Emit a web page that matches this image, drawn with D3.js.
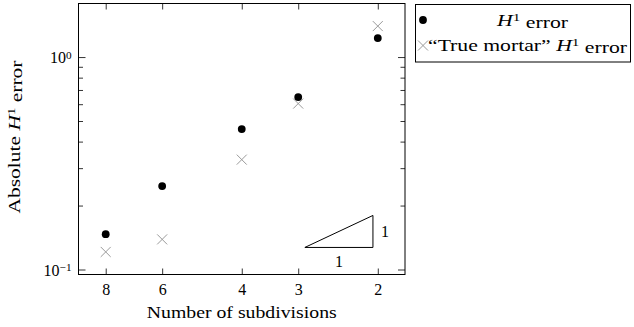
<!DOCTYPE html>
<html>
<head>
<meta charset="utf-8">
<script src="https://cdn.jsdelivr.net/npm/d3@7"></script>
<style>
  body { margin: 0; background: #fff; }
</style>
</head>
<body>
<svg id="chart" width="634" height="327"></svg>
<script>
// Convergence data: error versus number of subdivisions
const subdivisions = [8, 6, 4, 3, 2];
const h1Error = [0.1466, 0.247, 0.458, 0.648, 1.228];
const trueMortarError = [0.121, 0.1386, 0.329, 0.604, 1.399];

const xTickValues = [8, 6, 4, 3, 2];
const yMajorTicks = [0.1, 1];
const yMinorTicks = [0.2, 0.3, 0.4, 0.5, 0.6, 0.7, 0.8, 0.9];

// Slope-1 reference triangle (corners in data units)
const slopeRun = [2.9, 2.05];
const slopeBase = 0.127;
const slopeOrder = 1;

const FONT = "'Liberation Serif', 'Times New Roman', Times, serif";
const FS = 16;
const svg = d3.select("#chart").attr("font-family", FONT);
const plot = { left: 78.5, right: 405, top: 3.5, bottom: 274.5 };

// pgfplots-style 10% enlargement of the log range
function enlarged(vals) {
  const lo = Math.log(d3.min(vals)), hi = Math.log(d3.max(vals));
  const pad = (hi - lo) * 0.1;
  return [Math.exp(lo - pad), Math.exp(hi + pad)];
}
const xd = enlarged(subdivisions);
const x = d3.scaleLog().domain([xd[1], xd[0]]).range([plot.left, plot.right]);
const yd = enlarged(h1Error.concat(trueMortarError));
const y = d3.scaleLog().domain(yd).range([plot.bottom, plot.top]);

function styleAxis(g) {
  g.attr("font-family", FONT).attr("font-size", FS);
  g.select(".domain").remove();
  g.selectAll(".tick line").attr("stroke", "#000").attr("stroke-width", 0.8);
  g.selectAll("text").attr("fill", "#000");
}

// x axis (ticks point inward on top and bottom)
svg.append("g").attr("transform", `translate(0,${plot.bottom})`)
  .call(d3.axisBottom(x).tickValues(xTickValues).tickFormat(d3.format("d")).tickSize(-6).tickPadding(9))
  .call(styleAxis);
svg.append("g").attr("transform", `translate(0,${plot.top})`)
  .call(d3.axisTop(x).tickValues(xTickValues).tickFormat("").tickSize(-6))
  .call(styleAxis);

// y axis, major ticks with power-of-ten labels
const yLeft = svg.append("g").attr("transform", `translate(${plot.left},0)`)
  .call(d3.axisLeft(y).tickValues(yMajorTicks).tickSize(-7).tickPadding(7).tickFormat(""))
  .call(styleAxis);
yLeft.selectAll(".tick text").each(function (d) {
  const t = d3.select(this).attr("dy", "0.36em");
  const e = Math.round(Math.log10(d));
  t.append("tspan").text("10");
  t.append("tspan").attr("dy", "-0.42em").attr("font-size", "70%")
    .text(e < 0 ? "\u2212" + (-e) : String(e));
});
svg.append("g").attr("transform", `translate(${plot.left},0)`)
  .call(d3.axisLeft(y).tickValues(yMinorTicks).tickSize(-4.5).tickFormat(""))
  .call(styleAxis);
svg.append("g").attr("transform", `translate(${plot.right},0)`)
  .call(d3.axisRight(y).tickValues(yMajorTicks).tickSize(-7).tickFormat(""))
  .call(styleAxis);
svg.append("g").attr("transform", `translate(${plot.right},0)`)
  .call(d3.axisRight(y).tickValues(yMinorTicks).tickSize(-4.5).tickFormat(""))
  .call(styleAxis);

// frame
svg.append("rect")
  .attr("x", plot.left).attr("y", plot.top)
  .attr("width", plot.right - plot.left).attr("height", plot.bottom - plot.top)
  .attr("fill", "none").attr("stroke", "#000").attr("stroke-width", 1);

// data marks
const crossPath = s => `M${-s},${-s}L${s},${s}M${-s},${s}L${s},${-s}`;
svg.append("g").selectAll("path").data(subdivisions).join("path")
  .attr("transform", (d, i) => `translate(${x(d)},${y(trueMortarError[i])})`)
  .attr("d", crossPath(5))
  .attr("stroke", "#9a9a9a").attr("stroke-width", 1).attr("fill", "none");
svg.append("g").selectAll("circle").data(subdivisions).join("circle")
  .attr("cx", d => x(d)).attr("cy", (d, i) => y(h1Error[i]))
  .attr("r", 3.9).attr("fill", "#000");

// slope triangle
const triTop = slopeBase * Math.pow(slopeRun[0] / slopeRun[1], slopeOrder);
svg.append("path")
  .attr("d", `M${x(slopeRun[0])},${y(slopeBase)}L${x(slopeRun[1])},${y(slopeBase)}L${x(slopeRun[1])},${y(triTop)}Z`)
  .attr("fill", "none").attr("stroke", "#000").attr("stroke-width", 1);
svg.append("text")
  .attr("x", (x(slopeRun[0]) + x(slopeRun[1])) / 2).attr("y", y(slopeBase) + 20)
  .attr("text-anchor", "middle").attr("font-size", FS).text("1");
svg.append("text")
  .attr("x", x(slopeRun[1]) + 8).attr("y", (y(slopeBase) + y(triTop)) / 2 + 6)
  .attr("font-size", FS).text("1");

// axis titles
function h1(sel) {
  sel.append("tspan").attr("font-style", "italic").text("H");
  sel.append("tspan").attr("dy", "-0.42em").attr("font-size", "70%").text("1");
  sel.append("tspan").attr("dy", "0.42em").text("\u00a0error");
}
svg.append("text")
  .attr("x", (plot.left + plot.right) / 2).attr("y", 318)
  .attr("text-anchor", "middle").attr("font-size", FS)
  .attr("textLength", 190).attr("lengthAdjust", "spacingAndGlyphs")
  .text("Number of subdivisions");
const yl = svg.append("text")
  .attr("transform", `translate(20,${(plot.top + plot.bottom) / 2 - 2}) rotate(-90)`)
  .attr("text-anchor", "middle").attr("font-size", FS)
  .attr("textLength", 153).attr("lengthAdjust", "spacingAndGlyphs");
yl.append("tspan").text("Absolute\u00a0");
h1(yl);

// legend
const lg = svg.append("g");
lg.append("rect").attr("x", 415.5).attr("y", 4.5).attr("width", 215).attr("height", 57.5)
  .attr("fill", "#fff").attr("stroke", "#000").attr("stroke-width", 1);
lg.append("circle").attr("cx", 423).attr("cy", 20).attr("r", 3.9).attr("fill", "#000");
lg.append("path").attr("transform", "translate(423,45.5)").attr("d", crossPath(5))
  .attr("stroke", "#9a9a9a").attr("stroke-width", 1).attr("fill", "none");
const l1 = lg.append("text").attr("x", 497).attr("y", 25.5).attr("font-size", FS)
  .attr("textLength", 71).attr("lengthAdjust", "spacingAndGlyphs");
h1(l1);
const l2 = lg.append("text").attr("x", 428).attr("y", 51).attr("font-size", FS)
  .attr("textLength", 199).attr("lengthAdjust", "spacingAndGlyphs");
l2.append("tspan").text("\u201cTrue mortar\u201d\u00a0");
h1(l2);
</script>
</body>
</html>
